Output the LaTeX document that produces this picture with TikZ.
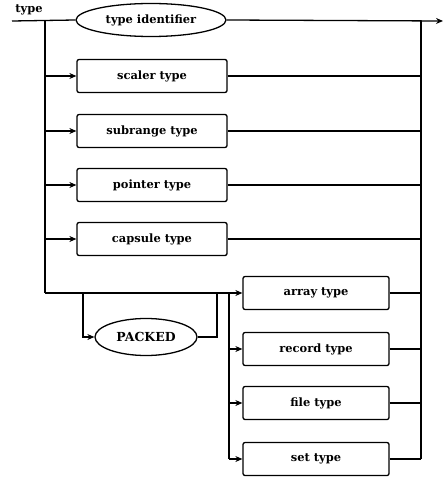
\documentclass[tikz,border=0pt]{standalone}
\usepackage{fontspec}
\setmainfont{DejaVu Serif}
\usetikzlibrary{arrows.meta,positioning,shapes.geometric}

\tikzset{
  synbox/.style={draw,line width=1.3pt,rounded corners=2pt,minimum width=150bp,minimum height=33bp,inner sep=0pt},
  synterm/.style={draw,ellipse,line width=1.3pt,inner sep=0pt},
  flow/.style={line width=1.3pt},
  tip/.style={flow,-{Stealth[length=7pt,width=6pt]}}
}

\begin{document}
\begin{tikzpicture}[x=1bp,y=-1bp,font=\bfseries\fontsize{11.5}{13}\selectfont]
\useasboundingbox (0,0) rectangle (444,480);

\node[anchor=center] (typelbl) at (29,10) {type};
\coordinate (start) at (12,21);
\coordinate (lrail) at (45,21);
\coordinate (rrail) at (421,21);
\coordinate (finish) at (443,21);

% upper alternatives
\node[synterm,minimum width=150bp,minimum height=33bp] (tid) at (151,20) {type identifier};
\node[synbox] (scaler) at (152,76) {scaler type};
\node[synbox] (subrange) at (152,131) {subrange type};
\node[synbox] (pointer) at (152,185) {pointer type};
\node[synbox] (capsule) at (152,239) {capsule type};

% structured types
\node[synbox,minimum width=146bp] (array) at (316,293) {array type};
\node[synbox,minimum width=146bp] (record) at (316,349) {record type};
\node[synbox,minimum width=146bp] (file) at (316,403) {file type};
\node[synbox,minimum width=146bp] (set) at (316,459) {set type};
\node[synterm,minimum width=102bp,minimum height=37bp,font=\bfseries\fontsize{12.5}{14}\selectfont] (packed) at (146,337) {PACKED};

\coordinate (lbot) at (45,293);
\coordinate (pin) at (83,293);
\coordinate (pout) at (217,293);
\coordinate (arail) at (229,293);

\draw[flow] (start) -- (tid.west);
\draw[tip] (tid.east) -- (finish);
\draw[flow] (lrail) -- (lbot);
\draw[flow] (rrail) -- (rrail |- set);

\foreach \n in {scaler,subrange,pointer,capsule}{
  \draw[tip] (lrail |- \n) -- (\n.west);
  \draw[flow] (\n.east) -- (rrail |- \n);
}

\draw[tip] (lbot) -- (array.west);
\draw[tip] (pin) |- (packed.west);
\draw[flow] (packed.east) -| (pout);
\draw[flow] (arail) -- (arail |- set);

\foreach \n in {record,file,set}
  \draw[tip] (arail |- \n) -- (\n.west);
\foreach \n in {array,record,file,set}
  \draw[flow] (\n.east) -- (rrail |- \n);
\end{tikzpicture}
\end{document}
